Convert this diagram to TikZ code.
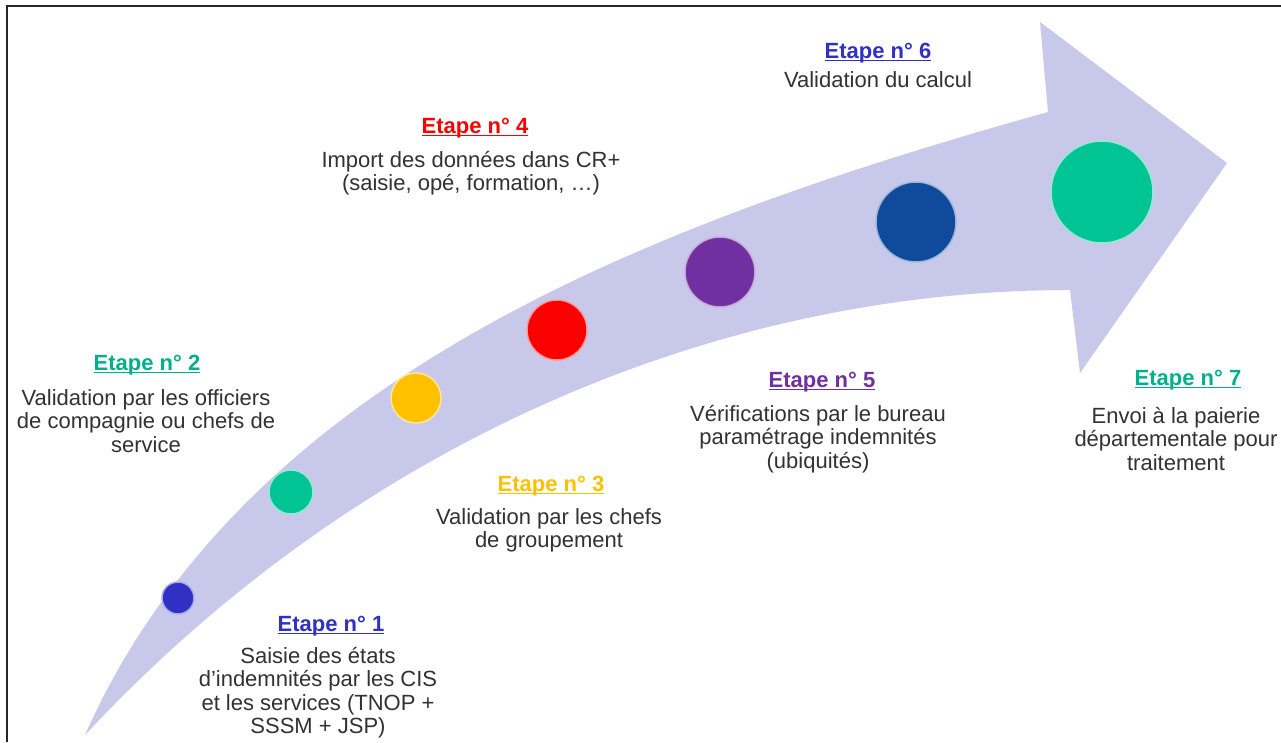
\documentclass[tikz,border=0pt]{standalone}
\usepackage{fontspec}
\setmainfont{Liberation Sans}
\definecolor{bandcol}{RGB}{200,200,235}
\definecolor{txtcol}{RGB}{50,50,50}
\definecolor{blucol}{RGB}{48,48,196}
\definecolor{grncol}{RGB}{0,196,148}
\definecolor{ylwcol}{RGB}{255,192,0}
\definecolor{redcol}{RGB}{250,0,0}
\definecolor{prpcol}{RGB}{112,48,160}
\definecolor{navcol}{RGB}{16,74,156}
\definecolor{tealcol}{RGB}{0,176,140}
\newcommand\ulword[1]{\setbox0=\hbox{#1}\rlap{\rule[-3.2pt]{\wd0}{1.6pt}}\box0}
\tikzset{
  dot/.style={circle,inner sep=0pt,line width=1.5pt},
  steptitle/.style={font=\fontsize{22}{24}\selectfont\bfseries,inner sep=0pt,anchor=base},
  stepbody/.style={font=\fontsize{22}{23.5}\selectfont,text=txtcol,align=center,inner sep=0pt,anchor=north}
}
\begin{document}
\begin{tikzpicture}[x=1pt,y=-1pt]
\useasboundingbox (0,0) rectangle (1281,742);
\fill[white] (0,0) rectangle (1281,742);
\draw[line width=2pt,black!85] (7,742)--(7,6)--(1281,6);
\fill[bandcol] (85,735) .. controls (245,375) and (655,222) .. (1048,112)
  -- (1040,22) -- (1227,163) -- (1080,373) -- (1070,290)
  .. controls (720,290) and (360,440) .. (85,735) -- cycle;
\node[dot,minimum size=32pt,fill=blucol,draw=blucol!40!white] (c1) at (178,598) {};
\node[dot,minimum size=44pt,fill=grncol,draw=grncol!40!white] (c2) at (291,492) {};
\node[dot,minimum size=50pt,fill=ylwcol,draw=ylwcol!40!white] (c3) at (416,398) {};
\node[dot,minimum size=60pt,fill=redcol,draw=redcol!40!white] (c4) at (557,330) {};
\node[dot,minimum size=70pt,fill=prpcol,draw=prpcol!40!white] (c5) at (720,272) {};
\node[dot,minimum size=80pt,fill=navcol,draw=navcol!40!white] (c6) at (916,222) {};
\node[dot,minimum size=102pt,fill=grncol,draw=grncol!40!white] (c7) at (1102,192) {};
\node[steptitle,text=blucol] (e1) at (331,631) {\ulword{Etape n° 1}};
\node[stepbody] (d1) at (318,647) {Saisie des états\\d'indemnités par les CIS\\et les services (TNOP +\\SSSM + JSP)};
\node[steptitle,text=tealcol] (e2) at (147,370) {\ulword{Etape n° 2}};
\node[stepbody] (d2) at (146,389) {Validation par les officiers\\de compagnie ou chefs de\\service};
\node[steptitle,text=ylwcol] (e3) at (551,491) {\ulword{Etape n° 3}};
\node[stepbody] (d3) at (549,508) {Validation par les chefs\\de groupement};
\node[steptitle,text=redcol] (e4) at (475,133) {\ulword{Etape n° 4}};
\node[stepbody] (d4) at (471,151) {Import des données dans CR+\\(saisie, opé, formation, …)};
\node[steptitle,text=prpcol] (e5) at (822,387) {\ulword{Etape n° 5}};
\node[stepbody] (d5) at (818,405) {Vérifications par le bureau\\paramétrage indemnités\\(ubiquités)};
\node[steptitle,text=blucol] (e6) at (878,58) {\ulword{Etape n° 6}};
\node[stepbody] (d6) at (878,71) {Validation du calcul};
\node[steptitle,text=tealcol] (e7) at (1188,385) {\ulword{Etape n° 7}};
\node[stepbody] (d7) at (1176,407) {Envoi à la paierie\\départementale pour\\traitement};
\end{tikzpicture}
\end{document}
